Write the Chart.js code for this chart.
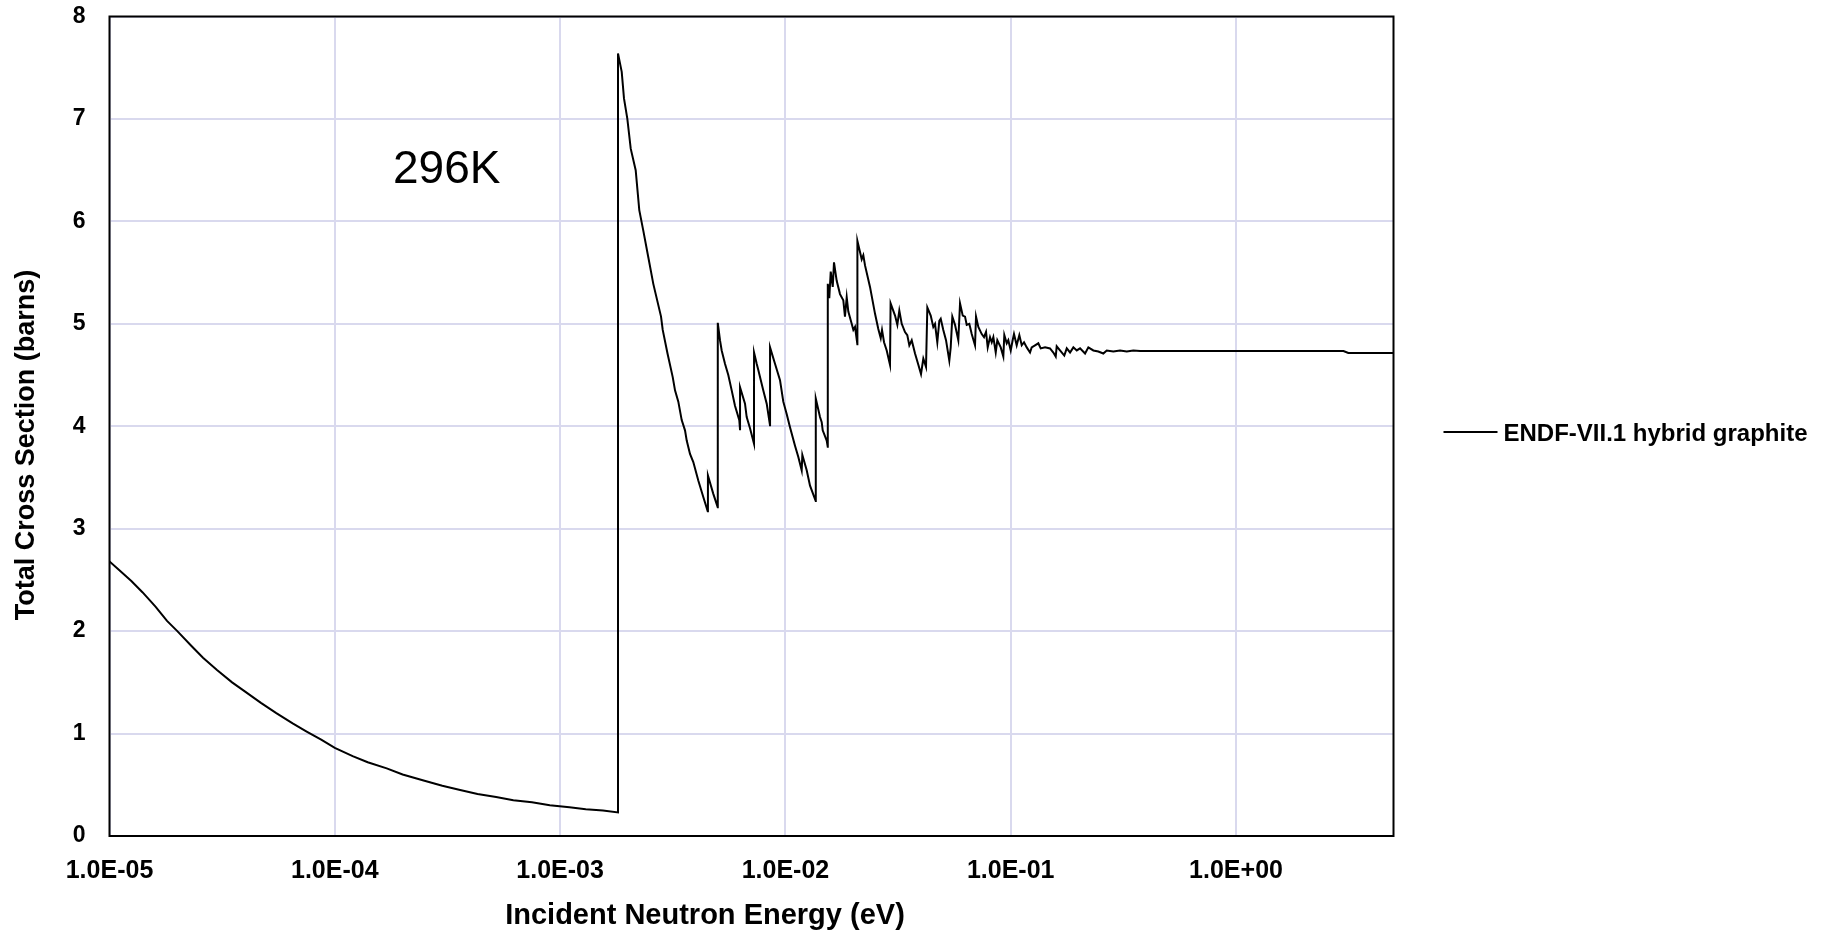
<!DOCTYPE html>
<html>
<head>
<meta charset="utf-8">
<title>Graphite total cross section</title>
<script src="https://cdn.jsdelivr.net/npm/chart.js@4.4.1/dist/chart.umd.min.js"></script>
<style>
  html, body { margin: 0; padding: 0; background: #ffffff; }
  canvas { display: block; }
</style>
</head>
<body>
<canvas id="xs" width="1823" height="935"></canvas>
<script>
// Incident neutron energy (eV)
const energyEv = [
  1.0e-5, 1.1e-5, 1.25e-5, 1.4e-5, 1.6e-5, 1.8e-5, 2.0e-5, 2.3e-5,
  2.6e-5, 3.0e-5, 3.5e-5, 4.0e-5, 4.7e-5, 5.5e-5, 6.5e-5, 7.5e-5,
  8.7e-5, 1.0e-4, 1.2e-4, 1.4e-4, 1.7e-4, 2.0e-4, 2.5e-4, 3.0e-4,
  3.6e-4, 4.3e-4, 5.2e-4, 6.2e-4, 7.5e-4, 9.0e-4, 1.1e-3, 1.3e-3,
  1.55e-3, 1.807e-3,
  1.807e-3, 1.877e-3, 1.921e-3, 1.988e-3, 2.058e-3, 2.165e-3, 2.246e-3, 2.340e-3,
  2.463e-3, 2.592e-3, 2.805e-3, 2.854e-3, 2.997e-3, 3.161e-3, 3.236e-3, 3.347e-3,
  3.465e-3, 3.584e-3, 3.647e-3, 3.772e-3, 3.901e-3, 4.105e-3, 4.320e-3, 4.520e-3,
  4.530e-3, 4.786e-3, 5.006e-3, 5.010e-3, 5.124e-3, 5.214e-3, 5.393e-3, 5.578e-3,
  5.775e-3, 5.973e-3, 6.242e-3, 6.287e-3, 6.290e-3, 6.617e-3, 6.732e-3, 6.964e-3,
  7.254e-3, 7.258e-3, 7.457e-3, 7.580e-3, 7.978e-3, 8.260e-3, 8.543e-3, 8.547e-3,
  8.991e-3, 9.463e-3, 9.786e-3, 1.013e-2, 1.048e-2, 1.103e-2, 1.141e-2, 1.181e-2,
  1.189e-2, 1.243e-2, 1.286e-2, 1.363e-2, 1.364e-2, 1.424e-2, 1.449e-2, 1.464e-2,
  1.525e-2, 1.541e-2, 1.542e-2, 1.566e-2, 1.589e-2, 1.622e-2, 1.643e-2, 1.689e-2,
  1.747e-2, 1.807e-2, 1.838e-2, 1.871e-2, 1.902e-2, 1.969e-2, 2.002e-2, 2.037e-2,
  2.086e-2, 2.087e-2, 2.181e-2, 2.217e-2, 2.256e-2, 2.374e-2, 2.498e-2, 2.584e-2,
  2.649e-2, 2.684e-2, 2.740e-2, 2.816e-2, 2.912e-2, 2.930e-2, 3.066e-2, 3.139e-2,
  3.203e-2, 3.283e-2, 3.395e-2, 3.475e-2, 3.548e-2, 3.636e-2, 3.761e-2, 3.890e-2,
  3.998e-2, 4.094e-2, 4.208e-2, 4.265e-2, 4.415e-2, 4.533e-2, 4.613e-2, 4.723e-2,
  4.821e-2, 4.890e-2, 5.021e-2, 5.162e-2, 5.339e-2, 5.416e-2, 5.506e-2, 5.660e-2,
  5.853e-2, 5.957e-2, 6.124e-2, 6.269e-2, 6.379e-2, 6.550e-2, 6.713e-2, 6.943e-2,
  7.015e-2, 7.182e-2, 7.436e-2, 7.613e-2, 7.770e-2, 7.906e-2, 8.094e-2, 8.237e-2,
  8.373e-2, 8.580e-2, 8.721e-2, 9.030e-2, 9.273e-2, 9.367e-2, 9.599e-2, 9.757e-2,
  1.000e-1, 1.020e-1, 1.034e-1, 1.063e-1, 1.092e-1, 1.119e-1, 1.146e-1, 1.178e-1,
  1.218e-1, 1.239e-1, 1.282e-1, 1.326e-1, 1.359e-1, 1.420e-1, 1.494e-1, 1.546e-1,
  1.584e-1, 1.600e-1, 1.655e-1, 1.729e-1, 1.773e-1, 1.834e-1, 1.897e-1, 1.964e-1,
  2.031e-1, 2.138e-1, 2.211e-1, 2.327e-1, 2.448e-1, 2.576e-1, 2.668e-1, 2.854e-1,
  3.057e-1, 3.273e-1, 3.501e-1, 3.750e-1, 3.0, 3.15, 5.0
];

// Total cross section (barns)
const totalBarns = [
  2.68, 2.60, 2.49, 2.38, 2.24, 2.10, 2.00, 1.86,
  1.74, 1.62, 1.50, 1.41, 1.30, 1.20, 1.10, 1.02,
  0.94, 0.86, 0.78, 0.72, 0.66, 0.60, 0.54, 0.49,
  0.45, 0.41, 0.38, 0.35, 0.33, 0.30, 0.28, 0.26,
  0.25, 0.23,
  7.64, 7.46, 7.20, 7.00, 6.71, 6.50, 6.11, 5.91,
  5.65, 5.39, 5.07, 4.94, 4.71, 4.48, 4.35, 4.24,
  4.06, 3.96, 3.86, 3.73, 3.65, 3.47, 3.31, 3.17,
  3.52, 3.34, 3.21, 5.01, 4.84, 4.74, 4.61, 4.50,
  4.35, 4.20, 4.06, 3.97, 4.38, 4.22, 4.09, 3.98,
  3.83, 4.72, 4.61, 4.55, 4.35, 4.22, 4.01, 4.77,
  4.61, 4.45, 4.24, 4.12, 3.99, 3.81, 3.70, 3.57,
  3.72, 3.57, 3.42, 3.27, 4.27, 4.09, 4.04, 3.96,
  3.86, 3.80, 5.39, 5.25, 5.51, 5.36, 5.60, 5.42,
  5.29, 5.23, 5.07, 5.26, 5.12, 5.00, 4.94, 4.97,
  4.80, 5.81, 5.63, 5.67, 5.57, 5.36, 5.10, 4.95,
  4.86, 4.94, 4.82, 4.74, 4.60, 5.20, 5.08, 4.99,
  5.13, 5.00, 4.92, 4.89, 4.79, 4.84, 4.71, 4.60,
  4.51, 4.66, 4.58, 5.16, 5.08, 4.97, 5.00, 4.82,
  5.03, 5.05, 4.94, 4.84, 4.64, 4.77, 5.07, 4.99,
  4.84, 5.20, 5.08, 5.07, 4.99, 5.00, 4.90, 4.79,
  5.07, 4.97, 4.90, 4.87, 4.92, 4.77, 4.87, 4.82,
  4.87, 4.72, 4.84, 4.77, 4.68, 4.89, 4.81, 4.84,
  4.74, 4.84, 4.90, 4.79, 4.89, 4.79, 4.82, 4.77,
  4.72, 4.77, 4.79, 4.81, 4.76, 4.77, 4.76, 4.72,
  4.68, 4.78, 4.74, 4.69, 4.76, 4.72, 4.77, 4.74,
  4.76, 4.71, 4.77, 4.74, 4.73, 4.71, 4.74, 4.73,
  4.74, 4.73, 4.74, 4.735, 4.735, 4.715, 4.715
];

// Axis ticks
const xTickValues = [1e-5, 1e-4, 1e-3, 1e-2, 1e-1, 1];
const xTickLabels = ['1.0E-05', '1.0E-04', '1.0E-03', '1.0E-02', '1.0E-01', '1.0E+00'];
const yTickValues = [0, 1, 2, 3, 4, 5, 6, 7, 8];

const seriesName = 'ENDF-VII.1 hybrid graphite';
const temperatureNote = '296K';
const xTitle = 'Incident Neutron Energy (eV)';
const yTitle = 'Total Cross Section (barns)';

const FONT = '"Liberation Sans", Arial, sans-serif';
const GRID = 'rgb(217,217,238)';

// Frame, legend, axis titles and the temperature note
const decorations = {
  id: 'decorations',
  afterDatasetsDraw(chart) {
    const { ctx, chartArea: a } = chart;
    ctx.save();
    ctx.strokeStyle = '#000';
    ctx.lineWidth = 2;
    ctx.strokeRect(a.left, a.top, a.right - a.left, a.bottom - a.top);

    // legend entry
    const ds = chart.data.datasets[0];
    ctx.beginPath();
    ctx.moveTo(a.right + 50, 432);
    ctx.lineTo(a.right + 104, 432);
    ctx.strokeStyle = ds.borderColor;
    ctx.lineWidth = ds.borderWidth;
    ctx.stroke();
    ctx.fillStyle = '#000';
    ctx.font = 'bold 24px ' + FONT;
    ctx.textAlign = 'left';
    ctx.textBaseline = 'middle';
    ctx.fillText(ds.label, a.right + 110, 434);

    // x axis title
    ctx.font = 'bold 29px ' + FONT;
    ctx.textAlign = 'center';
    ctx.textBaseline = 'middle';
    ctx.fillText(xTitle, 705, 916);

    // y axis title
    ctx.save();
    ctx.translate(27, 445);
    ctx.rotate(-Math.PI / 2);
    ctx.font = 'bold 27px ' + FONT;
    ctx.fillText(yTitle, 0, 0);
    ctx.restore();

    // temperature note
    ctx.font = '46px ' + FONT;
    ctx.textAlign = 'left';
    ctx.textBaseline = 'alphabetic';
    ctx.fillText(temperatureNote, 393, 183);
    ctx.restore();
  }
};

new Chart(document.getElementById('xs'), {
  type: 'line',
  data: {
    datasets: [{
      label: seriesName,
      data: energyEv.map((e, i) => ({ x: e, y: totalBarns[i] })),
      borderColor: '#000000',
      borderWidth: 2,
      pointRadius: 0,
      tension: 0,
      fill: false
    }]
  },
  options: {
    responsive: false,
    animation: false,
    devicePixelRatio: 1,
    layout: { padding: { left: 0, top: 16.5, right: 429.5, bottom: 0 } },
    plugins: {
      legend: { display: false },
      title: { display: false },
      tooltip: { enabled: false }
    },
    scales: {
      x: {
        type: 'logarithmic',
        min: 1e-5,
        max: 5,
        afterBuildTicks(scale) {
          scale.ticks = xTickValues.map(v => ({ value: v }));
        },
        afterFit(scale) {
          scale.height = 99;
          scale.paddingLeft = 0;
          scale.paddingRight = 0;
        },
        ticks: {
          autoSkip: false,
          maxRotation: 0,
          padding: 20,
          color: '#000',
          font: { family: FONT, size: 25, weight: 'bold' },
          callback: (v, i) => xTickLabels[i]
        },
        grid: { color: GRID, lineWidth: 2, drawTicks: false },
        border: { display: false }
      },
      y: {
        type: 'linear',
        min: 0,
        max: 8,
        afterBuildTicks(scale) {
          scale.ticks = yTickValues.map(v => ({ value: v }));
        },
        afterFit(scale) {
          scale.width = 109.5;
          scale.paddingTop = 0;
          scale.paddingBottom = 0;
        },
        ticks: {
          padding: 24,
          color: '#000',
          font: { family: FONT, size: 23, weight: 'bold' },
          callback: v => String(v)
        },
        grid: { color: GRID, lineWidth: 2, drawTicks: false },
        border: { display: false }
      }
    }
  },
  plugins: [decorations]
});
</script>
</body>
</html>
